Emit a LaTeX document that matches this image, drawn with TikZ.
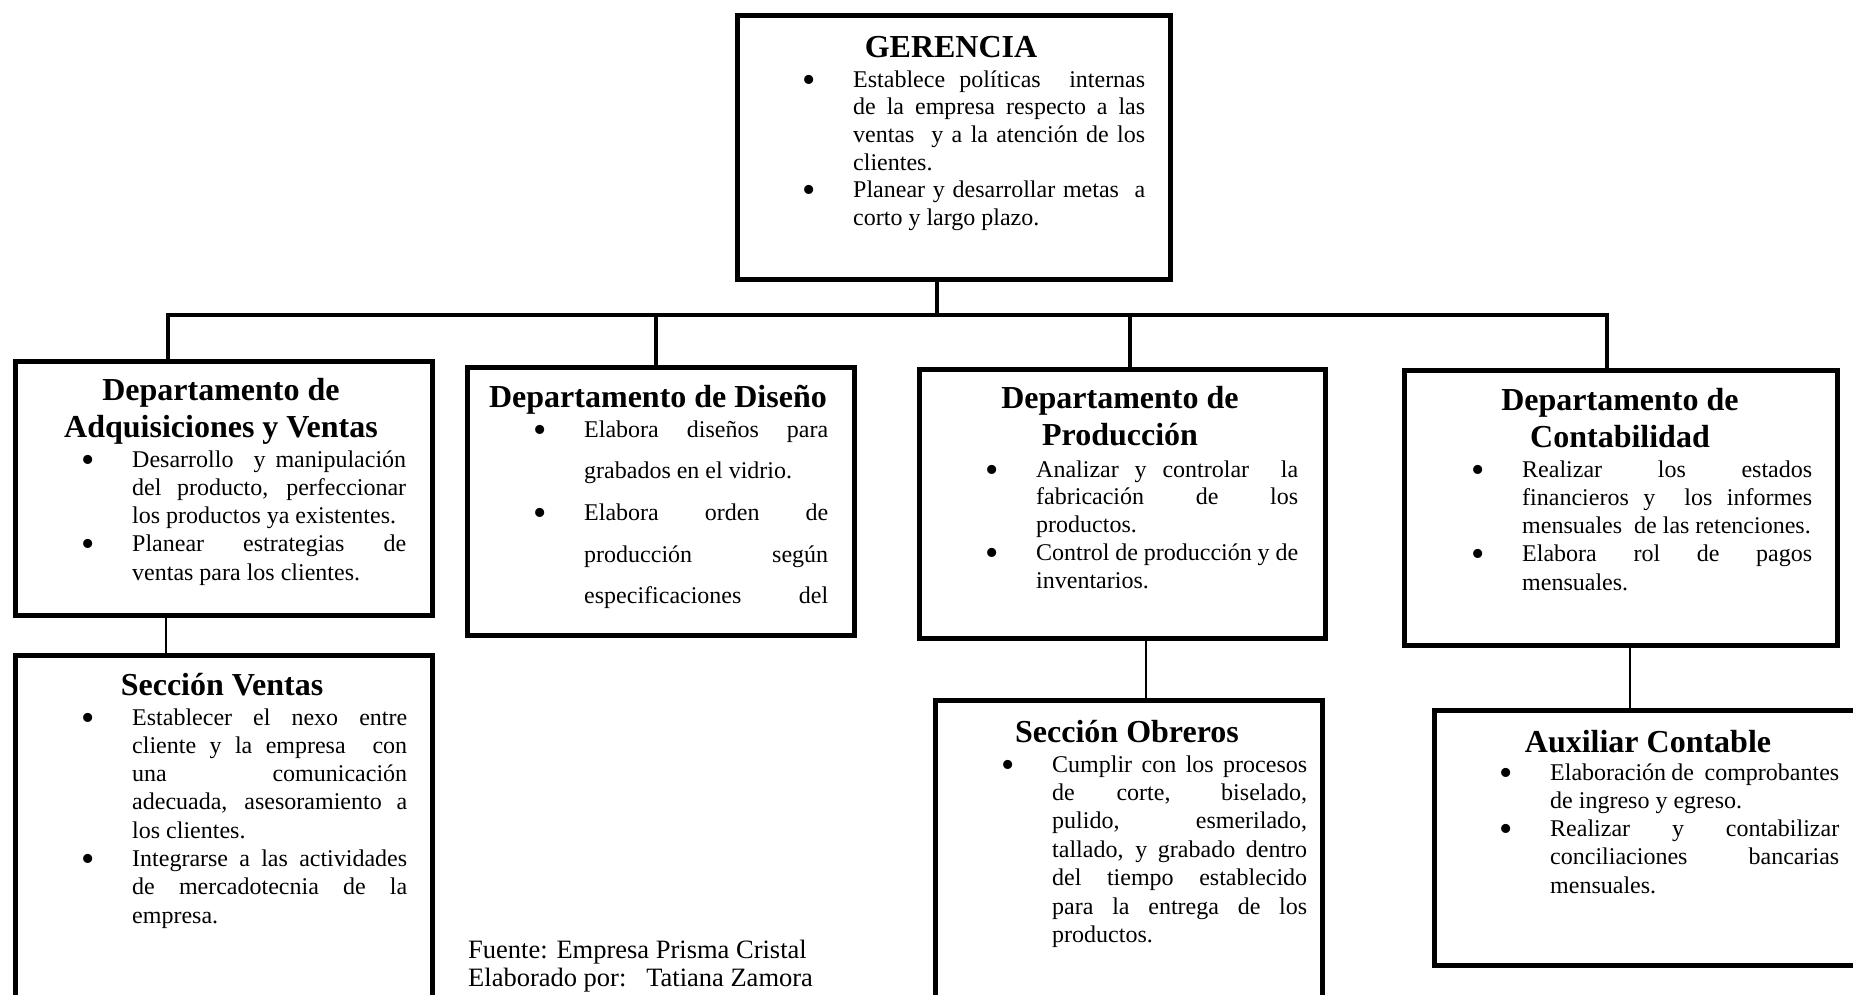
\documentclass[tikz,border=0pt]{standalone}
\usepackage{fontspec}
\setmainfont{Liberation Serif}
% bullet in the left margin of a list line
\newcommand\bul{\leavevmode\llap{{\fontsize{38}{38}\selectfont\raisebox{-5pt}{\textbullet}}\hspace{37pt}}}
% justified line / last line of a paragraph
\newcommand\jline[1]{\makebox[\linewidth][s]{#1}\par}
\newcommand\rline[1]{\mbox{#1}\par}
% list block: width, line spacing, lines
\newcommand\blist[3]{\parbox[t]{#1}{\fontsize{24}{#2}\selectfont\parindent=0pt #3}}
% bold centred heading
\newcommand\tbox[1]{\parbox[t]{440pt}{\centering\fontsize{32}{37.5}\selectfont\bfseries #1}}
\begin{document}
\begin{tikzpicture}[x=1pt,y=-1pt,
  box/.style={draw, line width=4.5pt, inner sep=0pt, anchor=north west},
  ttl/.style={inner sep=0pt, anchor=base},
  lst/.style={inner sep=0pt, anchor=base west},
  bus/.style={line width=4.5pt},
  link/.style={line width=1.8pt}]
\fill[white] (0,0) rectangle (1853,994);
\useasboundingbox (0,0) rectangle (1853,994);
\clip (0,0) rectangle (1853,994);

% boxes
\node[box, minimum width=433pt, minimum height=264pt] (ger) at (735,13) {};
\node[box, minimum width=417pt, minimum height=254pt] (adq) at (13,359) {};
\node[box, minimum width=387pt, minimum height=268pt] (dis) at (465,365) {};
\node[box, minimum width=406pt, minimum height=269pt] (pro) at (917,367) {};
\node[box, minimum width=433pt, minimum height=275pt] (con) at (1402,368) {};
\node[box, minimum width=417pt, minimum height=360pt] (ven) at (13,653) {};
\node[box, minimum width=387pt, minimum height=315pt] (obr) at (933,698) {};
\node[box, minimum width=440pt, minimum height=255pt] (aux) at (1432,708) {};

% headings
\node[ttl] (tger) at (951,57) {\tbox{GERENCIA}};
\node[ttl] (tadq) at (221,400) {\tbox{Departamento de\\Adquisiciones y Ventas}};
\node[ttl] (tdis) at (658,407) {\tbox{Departamento de Diseño}};
\node[ttl] (tpro) at (1120,408) {\tbox{Departamento de\\Producción}};
\node[ttl] (tcon) at (1620,410) {\tbox{Departamento de\\Contabilidad}};
\node[ttl] (tven) at (222,695) {\tbox{Sección Ventas}};
\node[ttl] (tobr) at (1127,742) {\tbox{Sección Obreros}};
\node[ttl] (taux) at (1648,752) {\tbox{Auxiliar Contable}};

% duties
\node[lst] (lger) at (853,87) {\blist{292pt}{27.7pt}{%
\bul\jline{Establece políticas\ \ internas}
\jline{de la empresa respecto a las}
\jline{ventas\ \ y a la atención de los}
\rline{clientes.}
\bul\jline{Planear y desarrollar metas\ \ a}
\rline{corto y largo plazo.}}};

\node[lst] (ladq) at (132,467) {\blist{274pt}{28.3pt}{%
\bul\jline{Desarrollo\ \ y manipulación}
\jline{del producto, perfeccionar}
\rline{los productos ya existentes.}
\bul\jline{Planear estrategias de}
\rline{ventas para los clientes.}}};

\node[lst] (ldis) at (584,437) {\blist{244pt}{41.7pt}{%
\bul\jline{Elabora diseños para}
\rline{grabados en el vidrio.}
\bul\jline{Elabora orden de}
\jline{producción según}
\jline{especificaciones del}}};

\node[lst] (lpro) at (1036,477) {\blist{262pt}{27.9pt}{%
\bul\jline{Analizar y controlar\ \ la}
\jline{fabricación de los}
\rline{productos.}
\bul\jline{Control de producción y de}
\rline{inventarios.}}};

\node[lst] (lcon) at (1522,477) {\blist{290pt}{28.3pt}{%
\bul\jline{Realizar los estados}
\jline{financieros y\ \ los informes}
\rline{mensuales\ \ de las retenciones.}
\bul\jline{Elabora rol de pagos}
\rline{mensuales.}}};

\node[lst] (lven) at (132,725) {\blist{275pt}{28.3pt}{%
\bul\jline{Establecer el nexo entre}
\jline{cliente y la empresa\ \ con}
\jline{una comunicación}
\jline{adecuada, asesoramiento a}
\rline{los clientes.}
\bul\jline{Integrarse a las actividades}
\jline{de mercadotecnia de la}
\rline{empresa.}}};

\node[lst] (lobr) at (1052,772) {\blist{255pt}{28.4pt}{%
\bul\jline{Cumplir con los procesos}
\jline{de corte, biselado,}
\jline{pulido, esmerilado,}
\jline{tallado, y grabado dentro}
\jline{del tiempo establecido}
\jline{para la entrega de los}
\rline{productos.}}};

\node[lst] (laux) at (1550,780) {\blist{289pt}{28.3pt}{%
\bul\jline{Elaboración de\ \ comprobantes}
\rline{de ingreso y egreso.}
\bul\jline{Realizar y contabilizar}
\jline{conciliaciones bancarias}
\rline{mensuales.}}};

% source note
\node[lst] (src) at (468,958) {\parbox[t]{420pt}{\fontsize{26.5}{28.5}\selectfont
Fuente: Empresa Prisma Cristal\\
Elaborado por:\ \ \ Tatiana Zamora}};

% bus and drops
\coordinate (bL) at (168,315);
\coordinate (bR) at (1607,315);
\coordinate (bg) at (937,315);
\coordinate (b2) at (656,315);
\coordinate (b3) at (1130,315);
\draw[bus] (bL |- adq.north) -- (bL) -- (bR) -- (bR |- con.north);
\draw[bus] (bg |- ger.south) -- (bg);
\draw[bus] (b2) -- (b2 |- dis.north);
\draw[bus] (b3) -- (b3 |- pro.north);

% links to the sections
\coordinate (k1) at (166,633);
\coordinate (k2) at (1146,667);
\coordinate (k3) at (1630,675);
\draw[link] (k1 |- adq.south) -- (k1 |- ven.north);
\draw[link] (k2 |- pro.south) -- (k2 |- obr.north);
\draw[link] (k3 |- con.south) -- (k3 |- aux.north);
\end{tikzpicture}
\end{document}
